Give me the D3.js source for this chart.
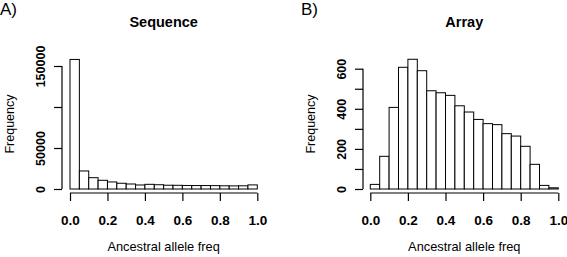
<!DOCTYPE html>
<html><head><meta charset="utf-8">
<script src="https://cdn.jsdelivr.net/npm/d3@7"></script>
<style>body{margin:0;background:#fff}svg{display:block}text{font-family:"Liberation Sans",Arial,Helvetica,sans-serif;fill:#000}</style>
</head><body>
<script>
const binEdges = d3.range(0, 1.0001, 0.05).map(v => +v.toFixed(2));
const sequenceCounts = [158000, 22000, 13800, 10600, 8600, 7000, 6100, 4900, 5700, 5200, 4600, 4500, 4300, 4200, 4200, 4100, 3900, 3800, 3900, 5000];
const arrayCounts = [23, 163, 407, 607, 647, 590, 490, 480, 467, 415, 384, 347, 326, 321, 276, 264, 213, 123, 18, 6];
const xTicks = [0, 0.2, 0.4, 0.6, 0.8, 1.0];
const seqYTicks = [0, 50000, 100000, 150000];
const seqYLabels = [0, 50000, 150000];
const arrYTicks = [0, 100, 200, 300, 400, 500, 600];
const arrYLabels = [0, 200, 400, 600];
const panels = [
  {tag:"A)", title:"Sequence", counts:sequenceCounts, yTicks:seqYTicks, yLabels:seqYLabels, yMax:150000,
   x0:70, x1:257.3, yTop:66, axisX:62, tagX:0},
  {tag:"B)", title:"Array", counts:arrayCounts, yTicks:arrYTicks, yLabels:arrYLabels, yMax:600,
   x0:370.3, x1:558.3, yTop:68.7, axisX:363, tagX:301}
];
const W = 567, H = 257, yBase = 189, xAxisY = 193;
const svg = d3.select("body").append("svg").attr("width", W).attr("height", H);

panels.forEach(p => {
  const g = svg.append("g");
  const x = d3.scaleLinear().domain([0, 1]).range([p.x0, p.x1]);
  const y = d3.scaleLinear().domain([0, p.yMax]).range([yBase, p.yTop]);
  const bins = p.counts.map((c, i) => ({a: binEdges[i], b: binEdges[i + 1], c}));
  g.selectAll("rect.bar").data(bins).join("rect").attr("class", "bar")
    .attr("x", d => x(d.a)).attr("width", d => x(d.b) - x(d.a))
    .attr("y", d => y(d.c)).attr("height", d => y(0) - y(d.c))
    .attr("fill", "#fff").attr("stroke", "#000").attr("stroke-width", 1);

  // x axis
  const xa = g.append("g").attr("transform", `translate(0,${xAxisY})`)
    .call(d3.axisBottom(x).tickValues(xTicks).tickSize(8).tickPadding(14).tickFormat(d3.format(".1f")));
  xa.select(".domain").attr("stroke", "#000").attr("stroke-width", 1.2).attr("d", `M${x(0)},0H${x(1)}`);
  xa.selectAll(".tick line").attr("stroke", "#000").attr("stroke-width", 1.2);
  xa.selectAll(".tick text").attr("font-size", 13.5).attr("font-weight", "bold").attr("font-family", '"Liberation Sans",Arial,sans-serif').attr("fill", "#000").attr("dy", "0.71em");

  // y axis
  const ya = g.append("g").attr("transform", `translate(${p.axisX},0)`)
    .call(d3.axisLeft(y).tickValues(p.yTicks).tickSize(8).tickFormat(d => p.yLabels.includes(d) ? d : ""));
  ya.select(".domain").attr("stroke", "#000").attr("stroke-width", 1.2).attr("d", `M0,${y(0)}V${y(p.yMax)}`);
  ya.selectAll(".tick line").attr("stroke", "#000").attr("stroke-width", 1.2);
  ya.selectAll(".tick text").attr("font-size", 12.5).attr("font-weight", "bold").attr("font-family", '"Liberation Sans",Arial,sans-serif').attr("fill", "#000")
    .attr("x", null).attr("dy", null).attr("text-anchor", "middle")
    .attr("transform", "translate(-17,0) rotate(-90)");

  const cx = (p.x0 + p.x1) / 2;
  g.append("text").attr("x", cx).attr("y", 27).attr("text-anchor", "middle")
    .attr("font-size", 14.5).attr("font-weight", "bold").text(p.title);
  g.append("text").attr("x", cx).attr("y", 251).attr("text-anchor", "middle")
    .attr("font-size", 12.8).text("Ancestral allele freq");
  g.append("text").attr("transform", `translate(${p.axisX - 48},124) rotate(-90)`).attr("text-anchor", "middle")
    .attr("font-size", 12.5).text("Frequency");
  g.append("text").attr("x", p.tagX).attr("y", 15).attr("font-size", 17).text(p.tag);
});
</script>
</body></html>
